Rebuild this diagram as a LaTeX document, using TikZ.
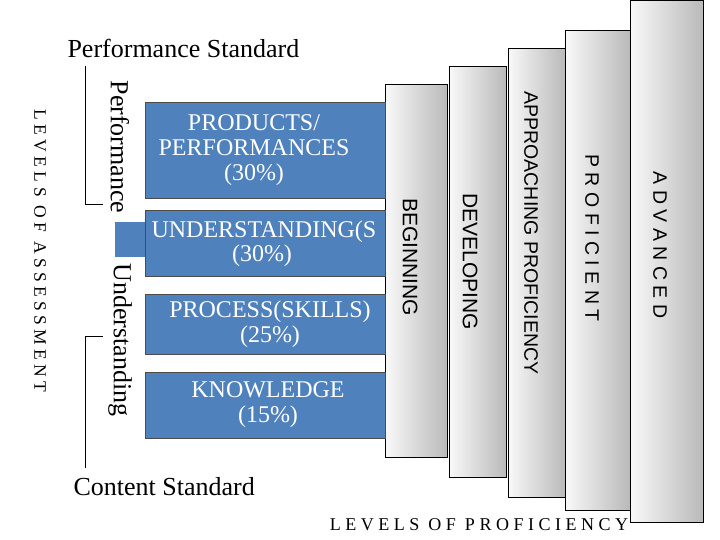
\documentclass[tikz,border=0pt]{standalone}
\usepackage{fontspec}
\setmainfont{Liberation Serif}
\setsansfont{Liberation Sans}
\definecolor{bl}{HTML}{4F81BD}
\begin{document}
\begin{tikzpicture}[x=1pt,y=-1pt,
 blue box/.style={fill=bl,draw=black!70,line width=0.6pt},
 col/.style={draw=black,line width=0.8pt,left color=white!95!gray,right color=gray!55},
 wt/.style={text=white,font=\fontsize{24}{25}\selectfont,align=center},
 cl/.style={rotate=-90,font=\sffamily\fontsize{19.5}{20}\selectfont},
 sp/.style={rotate=-90,font=\fontsize{17.5}{18}\selectfont}]
\useasboundingbox (0,0) rectangle (720,540);
\fill[white] (0,0) rectangle (720,540);
% columns
\node[col,minimum width=73,minimum height=522,inner sep=0,anchor=north west] (c5) at (630,0) {};
\node[col,minimum width=65,minimum height=480,inner sep=0,anchor=north west] (c4) at (565,30) {};
\node[col,minimum width=57,minimum height=449,inner sep=0,anchor=north west] (c3) at (508,48) {};
\node[col,minimum width=57,minimum height=411,inner sep=0,anchor=north west] (c2) at (449,66) {};
\node[col,minimum width=62,minimum height=373,inner sep=0,anchor=north west] (c1) at (385,84) {};
\node[cl,font=\sffamily\fontsize{21}{22}\selectfont] (t1) at (410,257) {BEGINNING};
\node[cl,font=\sffamily\fontsize{21}{22}\selectfont] (t2) at (470,262) {DEVELOPING};
\node[cl] (t3) at (531,233) {APPROACHING PROFICIENCY};
\node[cl] (t4) at (592,238) {P R O F I C I E N T};
\node[cl] (t5) at (660,245) {A D V A N C E D};
% blue boxes
\fill[bl] (115,222) rectangle (146,257);
\node[blue box,minimum width=240,minimum height=96,inner sep=0,anchor=north west] (b1) at (145,102) {};
\node[blue box,minimum width=240,minimum height=66,inner sep=0,anchor=north west] (b2) at (145,210) {};
\node[blue box,minimum width=240,minimum height=60,inner sep=0,anchor=north west] (b3) at (145,294) {};
\node[blue box,minimum width=240,minimum height=66,inner sep=0,anchor=north west] (b4) at (145,372) {};
\node[wt] (l1) at (254,150) {PRODUCTS/\\PERFORMANCES\\(30\%)};
\begin{scope}
\clip (145,210) rectangle (385,276);
\node[wt,anchor=north west,align=left] (l2) at (148,217) {UNDERSTANDING(S};
\node[wt] (l2b) at (262,256) {(30\%)};
\end{scope}
\node[wt] (l3) at (270,324) {PROCESS(SKILLS)\\(25\%)};
\node[wt] (l4) at (268,405) {KNOWLEDGE\\(15\%)};
% left labels
\node[rotate=-90,font=\fontsize{26}{27}\selectfont] (p) at (120,147) {Performance};
\node[rotate=-90,font=\fontsize{26}{27}\selectfont] (u) at (120,340) {Understanding};
\node[sp] (la) at (40,251) {L E V E L S \ O F \ A S S E S S M E N T};
\coordinate (a1) at (85,66); \coordinate (a2) at (85,204); \coordinate (a3) at (103,204);
\draw (a1) -- (a2) -- (a3);
\coordinate (d1) at (103,336); \coordinate (d2) at (85,336); \coordinate (d3) at (85,468);
\draw (d1) -- (d2) -- (d3);
\node[font=\fontsize{26}{27}\selectfont,anchor=west] (ps) at (64,48) {Performance Standard};
\node[font=\fontsize{26}{27}\selectfont,anchor=west] (cs) at (70,487) {Content Standard};
\node[font=\fontsize{18}{19}\selectfont] (lp) at (479,525) {L E V E L S \ O F \ P R O F I C I E N C Y};
\end{tikzpicture}
\end{document}
